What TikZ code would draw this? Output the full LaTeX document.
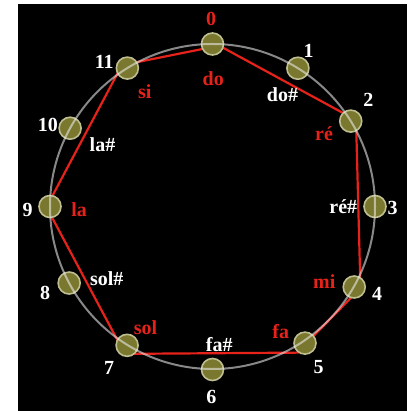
\documentclass[tikz,border=0pt]{standalone}
\usepackage{fontspec}
\setmainfont{Liberation Serif}
\usetikzlibrary{calc}
\pgfdeclarelayer{deep}
\pgfdeclarelayer{lines}
\pgfsetlayers{deep,lines,main}
\definecolor{nred}{RGB}{230,34,26}
\definecolor{olivefill}{RGB}{122,120,46}
\definecolor{oliverim}{RGB}{190,190,145}
\definecolor{ringcol}{RGB}{235,235,235}
\begin{document}
\begin{tikzpicture}[x=1pt,y=1pt,
  pc/.style={circle,fill=olivefill,draw=oliverim,line width=1.6pt,minimum size=22pt,inner sep=0pt},
  redline/.style={draw=nred,line width=2.2pt,line join=round},
  ring/.style={draw=ringcol,line width=2pt,opacity=0.58},
  lab/.style={inner sep=0pt,font=\fontsize{20}{21}\selectfont\bfseries},
  wlab/.style={lab,text=white},
  rlab/.style={lab,text=nred}]
\useasboundingbox (0,0) rectangle (407,411);
\begin{pgfonlayer}{deep}
\fill[black] (18,0) rectangle (407,407);
\end{pgfonlayer}
\coordinate (c) at (212.5,204.5);
% pitch-class nodes
\node[pc] (n0) at ($(c)+(90:162.5)$) {};
\node[pc] (n1) at ($(c)+(58.3:162.5)$) {};
\node[pc] (n2) at ($(c)+(31.7:162.5)$) {};
\node[pc] (n3) at ($(c)+(0:162.5)$) {};
\node[pc] (n4) at ($(c)+(-29.6:163)$) {};
\node[pc] (n5) at ($(c)+(-55.9:165)$) {};
\node[pc] (n6) at ($(c)+(-90:163)$) {};
\node[pc] (n7) at ($(c)+(-121.6:163)$) {};
\node[pc] (n8) at ($(c)+(-151.9:162.5)$) {};
\node[pc] (n9) at ($(c)+(180:162.5)$) {};
\node[pc] (n10) at ($(c)+(151.2:162.5)$) {};
\node[pc] (n11) at ($(c)+(121.6:162.5)$) {};
% red scale polygon, behind the nodes
\begin{pgfonlayer}{lines}
\draw[redline] ($(n0)+(0,-3)$) -- ($(n11)+(0,4)$);
\draw[redline] ($(n11)+(-7,0)$) -- ($(n9)+(1,8)$);
\draw[redline] ($(n9)+(1,-9)$) -- ($(n7)+(-9,4)$);
\draw[redline] ($(n7)+(4,-8.5)$) -- ($(n5)+(-6,-9.5)$);
\draw[redline] ($(n5)+(0,-1.5)$) -- ($(n4)+(-1.5,-9)$);
\draw[redline] ($(n4)+(6,7.5)$) -- ($(n2)+(5.5,-8)$);
\draw[redline] ($(n2)+(-3,5.5)$) -- ($(n0)+(0,2)$);
\end{pgfonlayer}
% grey ring over the nodes
\draw[ring] (c) circle[radius=162.5];
% labels
\node[rlab] (l0) at (211,391.7) {0};
\node[rlab] (ldo) at (213.3,332.7) {do};
\node[wlab] (l11) at (104.2,349) {11};
\node[rlab] (lsi) at (144.7,319.3) {si};
\node[wlab] (l1) at (308.5,360) {1};
\node[wlab] (ldos) at (282.5,316) {do\#};
\node[wlab] (l2) at (368.3,311.3) {2};
\node[rlab] (lre) at (324,277.7) {ré};
\node[wlab] (l10) at (47.8,285.7) {10};
\node[wlab] (llas) at (102.5,266) {la\#};
\node[wlab] (l9) at (27.7,201.5) {9};
\node[rlab] (lla) at (79.2,201) {la};
\node[wlab] (lsols) at (106.7,132.2) {sol\#};
\node[wlab] (l8) at (45,117.7) {8};
\node[rlab] (lsol) at (145.5,83.5) {sol};
\node[wlab] (l7) at (109.2,42.7) {7};
\node[wlab] (lfas) at (219.2,66.8) {fa\#};
\node[wlab] (l6) at (211.3,14.3) {6};
\node[rlab] (lfa) at (280.8,79.3) {fa};
\node[wlab] (l5) at (318.7,44) {5};
\node[rlab] (lmi) at (324.2,129.3) {mi};
\node[wlab] (l4) at (377.2,116.8) {4};
\node[wlab] (lres) at (343.3,204.3) {ré\#};
\node[wlab] (l3) at (392.5,203.5) {3};
\end{tikzpicture}
\end{document}
